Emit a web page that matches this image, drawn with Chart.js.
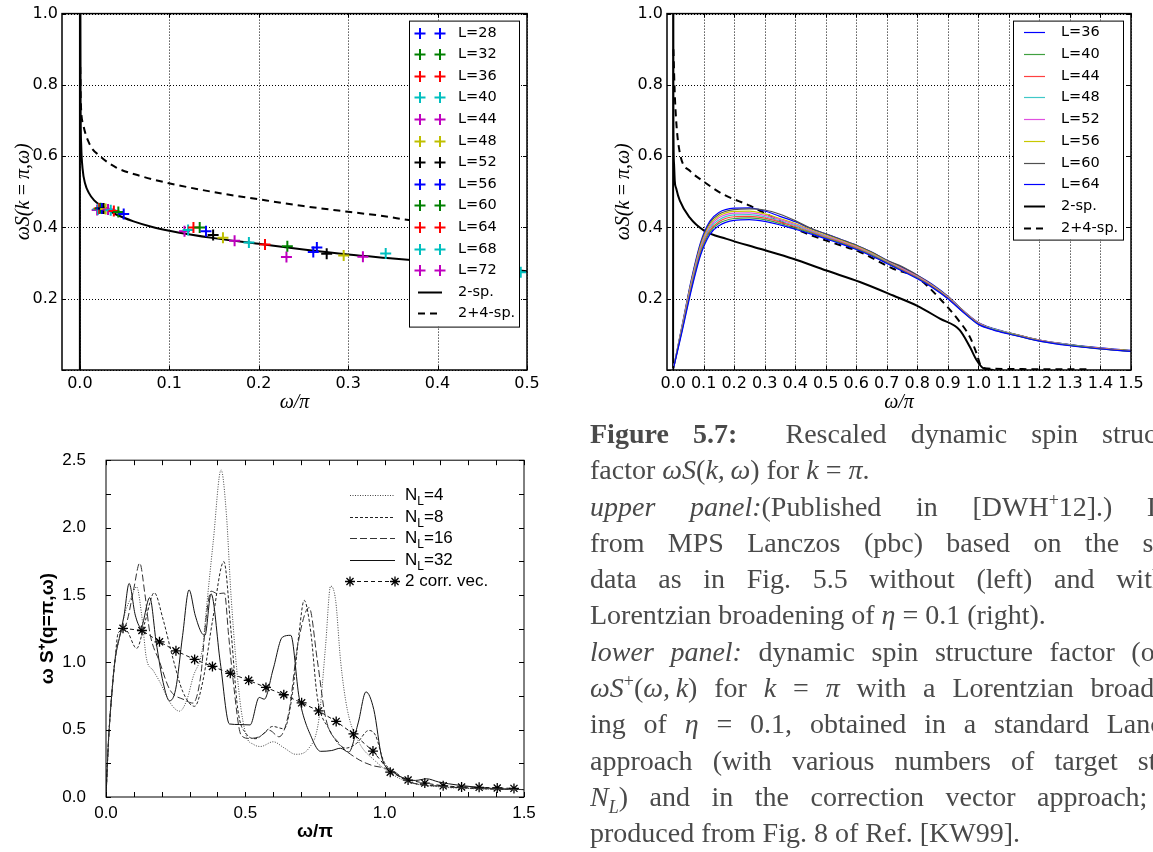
<!DOCTYPE html>
<html>
<head>
<meta charset="utf-8">
<script src="https://cdn.jsdelivr.net/npm/chart.js@4.4.0/dist/chart.umd.min.js"></script>
<style>
    html, body { margin: 0; padding: 0; width: 1153px; height: 852px; overflow: hidden; background: #fff; }
    .panel { position: absolute; }
    #caption { position: absolute; left: 590px; top: 416px; width: 610px; color: #4a4a4a;
        font-family: "Liberation Serif", serif; font-size: 28px; }
    #caption .ln { height: 36.3px; line-height: 36.3px; overflow: hidden; text-align: justify; text-align-last: justify; }
    #caption .ln.end { text-align-last: left; }
    #caption sup { font-size: 18px; line-height: 0; }
    #caption sub { font-size: 18px; line-height: 0; }
</style>
</head>
<body>

<div class="panel" style="left:0;top:0"><canvas id="upperLeft" width="560" height="420"></canvas></div>
<div class="panel" style="left:590px;top:0"><canvas id="upperRight" width="563" height="420"></canvas></div>
<div class="panel" style="left:0;top:430px"><canvas id="lower" width="560" height="422"></canvas></div>

<div id="caption">
    <div class="ln"><b>Figure 5.7:</b>&nbsp; Rescaled dynamic spin structure</div>
    <div class="ln end">factor <i>ωS</i>(<i>k,&thinsp;ω</i>) for <i>k</i> = <i>π</i>.</div>
    <div class="ln"><i>upper panel:</i>(Published in [DWH<sup>+</sup>12].) Data</div>
    <div class="ln">from MPS Lanczos (pbc) based on the same</div>
    <div class="ln">data as in Fig. 5.5 without (left) and with a</div>
    <div class="ln end">Lorentzian broadening of <i>η</i> = 0.1 (right).</div>
    <div class="ln" style="width:574px"><i>lower panel:</i> dynamic spin structure factor (or</div>
    <div class="ln" style="width:600px"><i>ωS</i><sup>+</sup>(<i>ω,&thinsp;k</i>) for <i>k</i> = <i>π</i> with a Lorentzian broaden-</div>
    <div class="ln">ing of <i>η</i> = 0.1, obtained in a standard Lanczos</div>
    <div class="ln">approach (with various numbers of target states</div>
    <div class="ln"><i>N<sub>L</sub></i>) and in the correction vector approach; re-</div>
    <div class="ln end">produced from Fig. 8 of Ref. [KW99].</div>
</div>

<script>
// ---------- upper left : finite size poles (no broadening) ----------
const sizesLeft = ["L=28", "L=32", "L=36", "L=40", "L=44", "L=48", "L=52", "L=56", "L=60", "L=64", "L=68", "L=72"];
const colorsLeft = ["#0000ff", "#008000", "#ff0000", "#00bfbf", "#bf00bf", "#bfbf00", "#000000",
    "#0000ff", "#008000", "#ff0000", "#00bfbf", "#bf00bf"];
// omega/pi of the poles, one list per L
const poleOmega = [
    [0.049, 0.265],
    [0.043, 0.232],
    [0.038, 0.207],
    [0.0345, 0.189, 0.342, 0.493],
    [0.0315, 0.173, 0.3165],
    [0.0288, 0.160, 0.295],
    [0.0266, 0.149, 0.276],
    [0.0247, 0.141, 0.261],
    [0.023, 0.134],
    [0.0216, 0.127],
    [0.0203, 0.121],
    [0.0193, 0.117, 0.231]
];
const poleWeight = [
    [0.438, 0.344],
    [0.443, 0.347],
    [0.446, 0.352],
    [0.448, 0.358, 0.327, 0.274],
    [0.450, 0.363, 0.318],
    [0.452, 0.371, 0.321],
    [0.453, 0.379, 0.326],
    [0.453, 0.389, 0.331],
    [0.454, 0.400],
    [0.453, 0.400],
    [0.451, 0.393],
    [0.449, 0.389, 0.317]
];
const omegaTwoSpLeft = [0, 0.0001, 0.0008, 0.0015, 0.003, 0.006, 0.01, 0.016, 0.025, 0.04, 0.06, 0.08, 0.1, 0.15, 0.2, 0.25, 0.3, 0.35, 0.4, 0.45, 0.5];
const twoSpLeft = [0, 1.5, 0.75, 0.63, 0.565, 0.522, 0.497, 0.476, 0.459, 0.437, 0.417, 0.402, 0.391, 0.370, 0.354, 0.338, 0.324, 0.313, 0.302, 0.290, 0.277];
const omegaFourSpLeft = [0.0004, 0.001, 0.0037, 0.011, 0.022, 0.0407, 0.067, 0.0963, 0.15, 0.2, 0.25, 0.3, 0.336, 0.37, 0.4, 0.45, 0.495];
const fourSpLeft = [0.85, 0.754, 0.689, 0.633, 0.601, 0.568, 0.545, 0.526, 0.499, 0.479, 0.460, 0.444, 0.433, 0.420, 0.410, 0.396, 0.382];
const xTicksLeft = [0, 0.1, 0.2, 0.3, 0.4, 0.5];
const yTicksUpper = [0, 0.2, 0.4, 0.6, 0.8, 1.0];

// ---------- upper right : Lorentzian broadened ----------
const sizesRight = ["L=36", "L=40", "L=44", "L=48", "L=52", "L=56", "L=60", "L=64"];
const colorsRight = ["#0000ff", "#40a040", "#ff4040", "#40c8c8", "#e050e0", "#c8c800", "#505050", "#0000ff"];
const bandOmega = [0, 0.03, 0.06, 0.09, 0.12, 0.15, 0.2, 0.25, 0.3, 0.35, 0.4, 0.45, 0.5, 0.55, 0.6, 0.65, 0.7, 0.75, 0.8, 0.85, 0.9, 0.95, 1.0, 1.05, 1.1, 1.2, 1.3, 1.4, 1.5];
const bandL36 = [0, 0.110, 0.225, 0.322, 0.380, 0.405, 0.420, 0.422, 0.417, 0.407, 0.395, 0.382, 0.368, 0.354, 0.338, 0.320, 0.299, 0.278, 0.256, 0.231, 0.200, 0.162, 0.128, 0.112, 0.101, 0.081, 0.068, 0.059, 0.052];
const bandL40 = [0, 0.114, 0.230, 0.327, 0.386, 0.411, 0.425, 0.427, 0.422, 0.411, 0.398, 0.385, 0.370, 0.356, 0.340, 0.322, 0.301, 0.279, 0.258, 0.232, 0.201, 0.163, 0.129, 0.113, 0.102, 0.081, 0.069, 0.059, 0.052];
const bandL44 = [0, 0.117, 0.235, 0.333, 0.391, 0.416, 0.430, 0.431, 0.426, 0.415, 0.402, 0.387, 0.372, 0.358, 0.342, 0.323, 0.302, 0.281, 0.259, 0.234, 0.202, 0.164, 0.130, 0.113, 0.102, 0.082, 0.069, 0.060, 0.053];
const bandL48 = [0, 0.119, 0.239, 0.338, 0.397, 0.421, 0.435, 0.436, 0.430, 0.418, 0.405, 0.389, 0.374, 0.359, 0.343, 0.325, 0.303, 0.282, 0.260, 0.235, 0.203, 0.164, 0.130, 0.114, 0.103, 0.082, 0.070, 0.060, 0.053];
const bandL52 = [0, 0.121, 0.243, 0.343, 0.402, 0.427, 0.440, 0.441, 0.434, 0.422, 0.408, 0.391, 0.376, 0.361, 0.345, 0.326, 0.304, 0.284, 0.262, 0.236, 0.204, 0.165, 0.131, 0.114, 0.103, 0.083, 0.070, 0.060, 0.053];
const bandL56 = [0, 0.123, 0.247, 0.348, 0.407, 0.432, 0.445, 0.446, 0.438, 0.425, 0.411, 0.393, 0.378, 0.363, 0.347, 0.328, 0.305, 0.285, 0.263, 0.237, 0.205, 0.166, 0.132, 0.115, 0.104, 0.083, 0.070, 0.061, 0.054];
const bandL60 = [0, 0.125, 0.251, 0.353, 0.412, 0.437, 0.450, 0.452, 0.449, 0.437, 0.419, 0.398, 0.382, 0.366, 0.350, 0.331, 0.308, 0.290, 0.266, 0.238, 0.206, 0.166, 0.132, 0.115, 0.104, 0.084, 0.071, 0.061, 0.054];
const bandL64 = [0, 0.127, 0.255, 0.358, 0.417, 0.442, 0.454, 0.455, 0.446, 0.431, 0.416, 0.397, 0.382, 0.366, 0.350, 0.331, 0.308, 0.288, 0.266, 0.240, 0.207, 0.167, 0.133, 0.116, 0.105, 0.084, 0.071, 0.062, 0.055];
const bandValues = [bandL36, bandL40, bandL44, bandL48, bandL52, bandL56, bandL60, bandL64];
const omegaTwoSpRight = [0, 0.0002, 0.001, 0.003, 0.0055, 0.01, 0.022, 0.054, 0.1015, 0.175, 0.284, 0.393, 0.502, 0.612, 0.721, 0.8, 0.874, 0.939, 0.972, 0.994, 1.016, 1.05];
const twoSpRight = [0, 1.5, 0.70, 0.58, 0.53, 0.51, 0.475, 0.428, 0.391, 0.368, 0.340, 0.312, 0.279, 0.247, 0.209, 0.180, 0.144, 0.112, 0.065, 0.028, 0.005, 0.0];
const omegaFourSpRight = [0.001, 0.006, 0.021, 0.056, 0.098, 0.164, 0.251, 0.316, 0.415, 0.502, 0.612, 0.721, 0.797, 0.874, 0.939, 0.972, 0.994, 1.01, 1.03, 1.1, 1.2, 1.37];
const fourSpRight = [0.9, 0.763, 0.614, 0.558, 0.530, 0.493, 0.461, 0.433, 0.391, 0.363, 0.331, 0.284, 0.261, 0.200, 0.135, 0.093, 0.047, 0.009, 0.004, 0.003, 0.002, 0.002];
const xTicksRight = [0, 0.1, 0.2, 0.3, 0.4, 0.5, 0.6, 0.7, 0.8, 0.9, 1.0, 1.1, 1.2, 1.3, 1.4, 1.5];

// ---------- lower : standard Lanczos vs correction vector ----------
const omegaNL4 = [0, 0.0088, 0.02, 0.032, 0.05, 0.07, 0.09, 0.11, 0.128, 0.145, 0.169, 0.193, 0.23, 0.264, 0.29, 0.312, 0.348, 0.36, 0.385, 0.413, 0.432, 0.449, 0.479, 0.503, 0.53, 0.555, 0.6, 0.639, 0.681, 0.729, 0.764, 0.788, 0.806, 0.824, 0.842, 0.866, 0.907, 0.967, 1.026, 1.086, 1.205, 1.35, 1.5];
const valNL4 = [0, 0.41, 0.745, 1.01, 1.2, 1.38, 1.48, 1.56, 1.35, 1.03, 0.94, 0.855, 0.70, 0.637, 0.72, 0.887, 1.126, 1.39, 1.9, 2.428, 2.1, 1.485, 0.745, 0.457, 0.39, 0.375, 0.41, 0.365, 0.317, 0.365, 0.578, 1.124, 1.566, 1.46, 1.007, 0.648, 0.409, 0.266, 0.170, 0.110, 0.074, 0.060, 0.055];
const omegaNL8 = [0, 0.0088, 0.02, 0.032, 0.044, 0.07, 0.11, 0.14, 0.173, 0.205, 0.24, 0.276, 0.318, 0.348, 0.383, 0.423, 0.449, 0.473, 0.503, 0.538, 0.565, 0.598, 0.639, 0.669, 0.693, 0.711, 0.735, 0.758, 0.8, 0.86, 0.9, 0.943, 0.967, 0.996, 1.026, 1.086, 1.205, 1.35, 1.5];
const valNL8 = [0, 0.41, 0.745, 1.01, 1.22, 1.24, 1.103, 1.30, 1.516, 1.317, 1.03, 0.78, 0.673, 0.864, 1.318, 1.747, 1.223, 0.65, 0.47, 0.433, 0.47, 0.524, 0.506, 0.768, 1.221, 1.46, 1.222, 0.745, 0.506, 0.363, 0.40, 0.494, 0.458, 0.268, 0.196, 0.115, 0.079, 0.062, 0.055];
const omegaNL16 = [0, 0.0088, 0.02, 0.032, 0.05, 0.075, 0.1, 0.121, 0.14, 0.157, 0.193, 0.229, 0.283, 0.312, 0.34, 0.36, 0.377, 0.401, 0.425, 0.44, 0.455, 0.485, 0.514, 0.55, 0.586, 0.621, 0.657, 0.687, 0.729, 0.758, 0.788, 0.836, 0.895, 0.955, 0.984, 1.026, 1.086, 1.205, 1.35, 1.5];
const valNL16 = [0, 0.41, 0.745, 1.01, 1.2, 1.30, 1.55, 1.736, 1.5, 1.223, 1.0, 0.797, 0.72, 0.697, 0.9, 1.34, 1.528, 1.509, 1.514, 1.2, 0.888, 0.459, 0.435, 0.447, 0.495, 0.447, 0.638, 1.115, 1.406, 1.02, 0.59, 0.40, 0.293, 0.234, 0.222, 0.198, 0.115, 0.079, 0.062, 0.055];
const omegaNL32 = [0, 0.0088, 0.02, 0.032, 0.05, 0.065, 0.083, 0.105, 0.125, 0.157, 0.18, 0.205, 0.228, 0.25, 0.275, 0.298, 0.32, 0.342, 0.355, 0.377, 0.41, 0.443, 0.48, 0.517, 0.55, 0.568, 0.6, 0.633, 0.663, 0.693, 0.74, 0.77, 0.81, 0.841, 0.871, 0.905, 0.933, 0.961, 0.99, 1.026, 1.074, 1.11, 1.151, 1.193, 1.264, 1.383, 1.5];
const valNL32 = [0, 0.41, 0.745, 1.01, 1.2, 1.35, 1.585, 1.35, 1.26, 1.48, 1.15, 0.85, 0.714, 0.80, 1.20, 1.537, 1.35, 1.222, 1.20, 1.508, 1.0, 0.542, 0.538, 0.535, 0.739, 0.726, 0.95, 1.186, 1.20, 0.74, 0.43, 0.339, 0.345, 0.362, 0.333, 0.55, 0.78, 0.649, 0.29, 0.195, 0.135, 0.123, 0.135, 0.112, 0.088, 0.064, 0.055];
const omegaCorrVec = [0.061, 0.129, 0.192, 0.251, 0.318, 0.382, 0.446, 0.512, 0.574, 0.638, 0.702, 0.763, 0.826, 0.888, 0.958, 1.020, 1.084, 1.144, 1.210, 1.276, 1.339, 1.404, 1.464];
const valCorrVec = [1.252, 1.236, 1.152, 1.085, 1.021, 0.969, 0.918, 0.866, 0.813, 0.759, 0.699, 0.639, 0.561, 0.468, 0.341, 0.184, 0.126, 0.103, 0.083, 0.074, 0.072, 0.067, 0.064];
const xTicksLower = [0, 0.5, 1.0, 1.5];
const yTicksLower = [0, 0.5, 1.0, 1.5, 2.0, 2.5];
const xMinorLower = [0.1, 0.2, 0.3, 0.4, 0.6, 0.7, 0.8, 0.9, 1.1, 1.2, 1.3, 1.4];
const yMinorLower = [0.25, 0.75, 1.25, 1.75, 2.25];

function pts(xs, ys) {
    return xs.map(function(w, i) { return { x: w, y: ys[i] }; });
}

// draws a + or an asterisk
function drawMark(ctx, style, x, y, r) {
    ctx.beginPath();
    ctx.moveTo(x - r, y); ctx.lineTo(x + r, y);
    ctx.moveTo(x, y - r); ctx.lineTo(x, y + r);
    if (style === 'star') {
        const q = r * Math.SQRT1_2;
        ctx.moveTo(x - q, y - q); ctx.lineTo(x + q, y + q);
        ctx.moveTo(x - q, y + q); ctx.lineTo(x + q, y - q);
    }
    ctx.stroke();
}

// frame, inward ticks and dotted grid
const framePlugin = {
    id: 'frame',
    beforeDatasetsDraw(chart, args, opts) {
        if (!opts.dotted) return;
        const { ctx, chartArea: a, scales } = chart;
        ctx.save();
        ctx.strokeStyle = '#000';
        ctx.lineWidth = 1;
        ctx.setLineDash([1, 2]);
        ctx.beginPath();
        scales.x.ticks.forEach(function(t) {
            const p = Math.round(scales.x.getPixelForValue(t.value)) + 0.5;
            ctx.moveTo(p, a.top); ctx.lineTo(p, a.bottom);
        });
        scales.y.ticks.forEach(function(t) {
            const p = Math.round(scales.y.getPixelForValue(t.value)) + 0.5;
            ctx.moveTo(a.left, p); ctx.lineTo(a.right, p);
        });
        ctx.stroke();
        ctx.restore();
    },
    afterDatasetsDraw(chart, args, opts) {
        const { ctx, chartArea: a, scales } = chart;
        const len = opts.tickLen || 4;
        ctx.save();
        ctx.strokeStyle = '#000';
        ctx.lineWidth = opts.width || 1;
        ctx.strokeRect(a.left, a.top, a.right - a.left, a.bottom - a.top);
        ctx.lineWidth = 1;
        ctx.beginPath();
        const xs = scales.x.ticks.map(function(t) { return t.value; }).concat(opts.minorX || []);
        const ys = scales.y.ticks.map(function(t) { return t.value; }).concat(opts.minorY || []);
        xs.forEach(function(v) {
            const p = Math.round(scales.x.getPixelForValue(v)) + 0.5;
            ctx.moveTo(p, a.bottom); ctx.lineTo(p, a.bottom - len);
            ctx.moveTo(p, a.top); ctx.lineTo(p, a.top + len);
        });
        ys.forEach(function(v) {
            const p = Math.round(scales.y.getPixelForValue(v)) + 0.5;
            ctx.moveTo(a.left, p); ctx.lineTo(a.left + len, p);
            ctx.moveTo(a.right, p); ctx.lineTo(a.right - len, p);
        });
        ctx.stroke();
        ctx.restore();
    }
};

// legend drawn inside the plot
const boxLegendPlugin = {
    id: 'boxLegend',
    afterDraw(chart, args, opts) {
        if (!opts.rowH) return;
        const { ctx, chartArea: a } = chart;
        const items = chart.data.datasets.filter(function(d) { return d.label; });
        ctx.save();
        if (opts.box) {
            const b = opts.box;
            ctx.fillStyle = '#fff';
            ctx.fillRect(a.left + b[0], a.top + b[1], b[2] - b[0], b[3] - b[1]);
            ctx.strokeStyle = '#000';
            ctx.lineWidth = 1;
            ctx.strokeRect(a.left + b[0] + 0.5, a.top + b[1] + 0.5, b[2] - b[0], b[3] - b[1]);
        }
        const size = opts.fontSize;
        items.forEach(function(d, i) {
            const cy = Math.round(a.top + opts.firstRow + i * opts.rowH) + 0.5;
            const x0 = a.left + opts.sample[0], x1 = a.left + opts.sample[1];
            if (d.showLine !== false) {
                ctx.strokeStyle = d.borderColor;
                ctx.lineWidth = d.borderWidth;
                ctx.setLineDash(d.borderDash || []);
                ctx.beginPath(); ctx.moveTo(x0, cy); ctx.lineTo(x1, cy); ctx.stroke();
                ctx.setLineDash([]);
            }
            if (d.pointRadius > 0) {
                ctx.strokeStyle = d.pointBorderColor || d.borderColor;
                ctx.lineWidth = d.pointBorderWidth;
                opts.marks.forEach(function(m) { drawMark(ctx, d.pointStyle, a.left + m, cy, d.pointRadius); });
            }
            // label, "N_L" gets a subscript
            ctx.fillStyle = '#000';
            ctx.textBaseline = 'middle';
            const font = size + 'px ' + opts.family;
            ctx.font = font;
            let tx = a.left + opts.textX;
            const k = d.label.indexOf('_');
            if (k < 0) {
                ctx.fillText(d.label, tx, cy);
            } else {
                const head = d.label.slice(0, k), sub = d.label[k + 1], tail = d.label.slice(k + 2);
                ctx.fillText(head, tx, cy); tx += ctx.measureText(head).width;
                ctx.font = Math.round(size * 0.68) + 'px ' + opts.family;
                ctx.fillText(sub, tx, cy + size * 0.35); tx += ctx.measureText(sub).width;
                ctx.font = font;
                ctx.fillText(tail, tx, cy);
            }
        });
        ctx.restore();
    }
};

Chart.register(framePlugin, boxLegendPlugin);

function setTicks(list) {
    return function(axis) { axis.ticks = list.map(function(v) { return { value: v }; }); };
}

const mathTitleFont = { family: 'Liberation Serif', size: 20, style: 'italic' };
const vera = { family: 'DejaVu Sans', size: 16 };

// ----- upper left chart -----
const leftSets = sizesLeft.map(function(lab, i) {
    return {
        label: lab, data: pts(poleOmega[i], poleWeight[i]), showLine: false,
        pointStyle: 'cross', pointRadius: 5.5, pointBorderWidth: 2,
        borderColor: colorsLeft[i], pointBorderColor: colorsLeft[i], backgroundColor: colorsLeft[i]
    };
});
leftSets.push({ label: '2-sp.', data: pts(omegaTwoSpLeft, twoSpLeft), showLine: true, borderColor: '#000',
    borderWidth: 2, pointRadius: 0, cubicInterpolationMode: 'monotone' });
leftSets.push({ label: '2+4-sp.', data: pts(omegaFourSpLeft, fourSpLeft), showLine: true, borderColor: '#000',
    borderWidth: 2, borderDash: [7, 5], pointRadius: 0, cubicInterpolationMode: 'monotone' });

new Chart(document.getElementById('upperLeft'), {
    type: 'scatter',
    data: { datasets: leftSets },
    options: {
        responsive: false, animation: false, events: [],
        layout: { padding: { left: 8, top: 12, right: 33, bottom: 0 } },
        plugins: {
            legend: { display: false }, tooltip: { enabled: false },
            frame: { dotted: true, width: 1.5, tickLen: 4 },
            boxLegend: { box: [347, 7, 457, 313], sample: [356, 380], marks: [358, 378], textX: 396,
                firstRow: 19, rowH: 21.6, fontSize: 14.5, family: 'DejaVu Sans' }
        },
        scales: {
            x: {
                type: 'linear', min: -0.02, max: 0.5, afterBuildTicks: setTicks(xTicksLeft),
                afterFit: function(s) { s.height = 50; },
                grid: { display: false, drawTicks: false }, border: { display: false },
                ticks: { font: vera, color: '#000', padding: 4, maxRotation: 0, autoSkip: false,
                    callback: function(v) { return v.toFixed(1); } },
                title: { display: true, text: 'ω/π', font: mathTitleFont, color: '#000', padding: { top: 0, bottom: 5 } }
            },
            y: {
                type: 'linear', min: 0, max: 1, afterBuildTicks: setTicks(yTicksUpper),
                afterFit: function(s) { s.width = 54; },
                grid: { display: false, drawTicks: false }, border: { display: false },
                ticks: { font: vera, color: '#000', padding: 4,
                    callback: function(v) { return v === 0 ? '' : v.toFixed(1); } },
                title: { display: true, text: 'ωS(k\u2009=\u2009π,ω)', font: mathTitleFont, color: '#000', padding: { top: 4, bottom: 0 } }
            }
        }
    }
});

// ----- upper right chart -----
const rightSets = sizesRight.map(function(lab, i) {
    return {
        label: lab, data: pts(bandOmega, bandValues[i]), showLine: true, borderColor: colorsRight[i],
        borderWidth: 1.2, pointRadius: 0, cubicInterpolationMode: 'monotone'
    };
});
rightSets.push({ label: '2-sp.', data: pts(omegaTwoSpRight, twoSpRight), showLine: true, borderColor: '#000',
    borderWidth: 2, pointRadius: 0, cubicInterpolationMode: 'monotone' });
rightSets.push({ label: '2+4-sp.', data: pts(omegaFourSpRight, fourSpRight), showLine: true, borderColor: '#000',
    borderWidth: 2, borderDash: [7, 5], pointRadius: 0, cubicInterpolationMode: 'monotone' });

new Chart(document.getElementById('upperRight'), {
    type: 'scatter',
    data: { datasets: rightSets },
    options: {
        responsive: false, animation: false, events: [],
        layout: { padding: { left: 18, top: 12, right: 22, bottom: 0 } },
        plugins: {
            legend: { display: false }, tooltip: { enabled: false },
            frame: { dotted: true, width: 1.5, tickLen: 4 },
            boxLegend: { box: [346, 7, 456, 226], sample: [357, 378], marks: [], textX: 394,
                firstRow: 18.7, rowH: 21.7, fontSize: 14.5, family: 'DejaVu Sans' }
        },
        scales: {
            x: {
                type: 'linear', min: -0.02, max: 1.5, afterBuildTicks: setTicks(xTicksRight),
                afterFit: function(s) { s.height = 50; },
                grid: { display: false, drawTicks: false }, border: { display: false },
                ticks: { font: vera, color: '#000', padding: 4, maxRotation: 0, autoSkip: false,
                    callback: function(v) { return v.toFixed(1); } },
                title: { display: true, text: 'ω/π', font: mathTitleFont, color: '#000', padding: { top: 0, bottom: 5 } }
            },
            y: {
                type: 'linear', min: 0, max: 1, afterBuildTicks: setTicks(yTicksUpper),
                afterFit: function(s) { s.width = 59; },
                grid: { display: false, drawTicks: false }, border: { display: false },
                ticks: { font: vera, color: '#000', padding: 4,
                    callback: function(v) { return v === 0 ? '' : v.toFixed(1); } },
                title: { display: true, text: 'ωS(k\u2009=\u2009π,ω)', font: mathTitleFont, color: '#000', padding: { top: 4, bottom: 0 } }
            }
        }
    }
});

// ----- lower chart -----
const helv = { family: 'Liberation Sans', size: 17 };
const helvBold = { family: 'Liberation Sans', size: 19, weight: 'bold' };
new Chart(document.getElementById('lower'), {
    type: 'scatter',
    data: {
        datasets: [
            { label: 'N_L=4', data: pts(omegaNL4, valNL4), showLine: true, borderColor: '#444', borderWidth: 1,
                borderDash: [1, 1.5], pointRadius: 0, cubicInterpolationMode: 'monotone' },
            { label: 'N_L=8', data: pts(omegaNL8, valNL8), showLine: true, borderColor: '#222', borderWidth: 1,
                borderDash: [3, 2], pointRadius: 0, cubicInterpolationMode: 'monotone' },
            { label: 'N_L=16', data: pts(omegaNL16, valNL16), showLine: true, borderColor: '#333', borderWidth: 1,
                borderDash: [7, 3], pointRadius: 0, cubicInterpolationMode: 'monotone' },
            { label: 'N_L=32', data: pts(omegaNL32, valNL32), showLine: true, borderColor: '#111', borderWidth: 1,
                pointRadius: 0, cubicInterpolationMode: 'monotone' },
            { label: '2 corr. vec.', data: pts(omegaCorrVec, valCorrVec), showLine: true, borderColor: '#111', borderWidth: 1,
                borderDash: [4, 3], pointStyle: 'star', pointRadius: 5, pointBorderWidth: 1.3,
                pointBorderColor: '#000', pointBackgroundColor: '#000' }
        ]
    },
    options: {
        responsive: false, animation: false, events: [],
        layout: { padding: { left: 32, top: 18, right: 36, bottom: 0 } },
        plugins: {
            legend: { display: false }, tooltip: { enabled: false },
            frame: { dotted: false, width: 1, tickLen: 5, minorX: xMinorLower, minorY: yMinorLower },
            boxLegend: { sample: [244, 289], marks: [244, 289], textX: 299,
                firstRow: 35, rowH: 21.5, fontSize: 17, family: 'Liberation Sans' }
        },
        scales: {
            x: {
                type: 'linear', min: 0, max: 1.5, afterBuildTicks: setTicks(xTicksLower),
                afterFit: function(s) { s.height = 55; },
                grid: { display: false, drawTicks: false }, border: { display: false },
                ticks: { font: helv, color: '#000', padding: 6, maxRotation: 0, autoSkip: false,
                    callback: function(v) { return v.toFixed(1); } },
                title: { display: true, text: 'ω/π', font: helvBold, color: '#000', padding: { top: 0, bottom: 9 } }
            },
            y: {
                type: 'linear', min: 0, max: 2.5, afterBuildTicks: setTicks(yTicksLower),
                afterFit: function(s) { s.width = 74; },
                grid: { display: false, drawTicks: false }, border: { display: false },
                ticks: { font: helv, color: '#000', padding: 20,
                    callback: function(v) { return v.toFixed(1); } },
                title: { display: true, text: 'ω S⁺(q=π,ω)', font: helvBold, color: '#000', padding: { top: 4, bottom: 0 } }
            }
        }
    }
});
</script>
</body>
</html>
